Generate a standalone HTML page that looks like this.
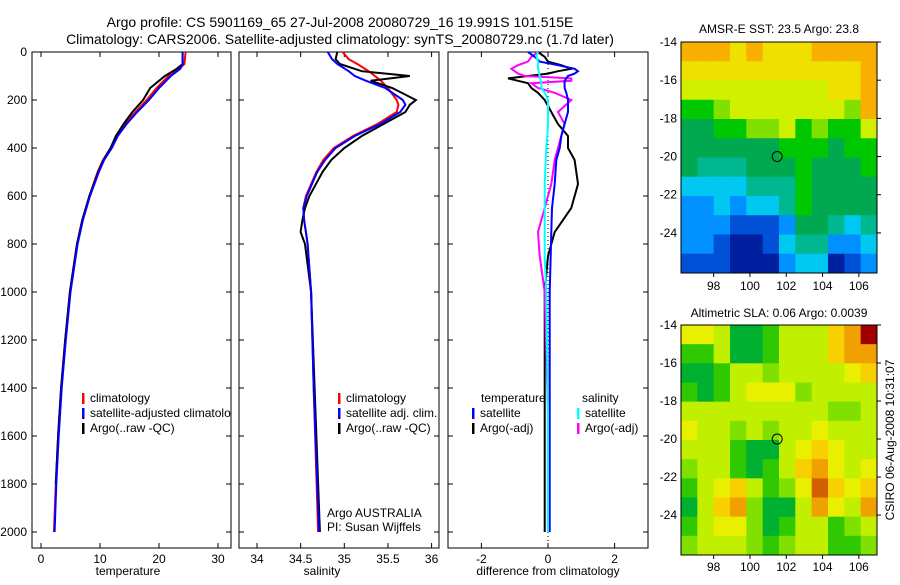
<!DOCTYPE html>
<html><head><meta charset="utf-8"><style>
body{margin:0;background:#fff;width:900px;height:580px;overflow:hidden}
svg{font-family:"Liberation Sans",sans-serif}
</style></head><body>
<svg id="fig" width="900" height="580" xmlns="http://www.w3.org/2000/svg">
<text x="340" y="27" font-size="14" text-anchor="middle">Argo profile: CS 5901169_65 27-Jul-2008 20080729_16 19.991S 101.515E</text>
<text x="340" y="44" font-size="14" text-anchor="middle">Climatology: CARS2006. Satellite-adjusted climatology: synTS_20080729.nc (1.7d later)</text>
</svg>
<script>
// ---------- data ----------
const tDepth=[0,50,70,100,150,200,250,300,350,400,450,500,600,700,800,1000,1200,1400,1600,1800,2000];
const tempSat=[24,24,23.6,22,20,18.3,16.3,14.5,13,12,10.7,9.8,8.3,7.1,6.2,5,4.2,3.5,3,2.6,2.3];
const tempClim=[24.5,24.3,23.4,21.6,19.6,17.9,16,14.2,12.8,11.8,10.5,9.6,8.2,7,6.1,4.9,4.1,3.4,2.9,2.5,2.2];
const tempArgo=[24,24,23,21,18.5,17.3,15.5,14,12.7,11.8,10.6,9.7,8.2,7,6.1,4.9,4.1,3.4,2.9,2.5,2.3];
const sDepth=[0,30,50,80,100,120,150,200,220,250,300,350,400,450,500,600,650,700,750,800,1000,1400,2000];
const salSat=[34.81,34.86,34.92,35.05,35.12,35.25,35.47,35.67,35.7,35.64,35.41,35.12,34.9,34.78,34.69,34.57,34.53,34.54,34.56,34.58,34.62,34.65,34.71];
const salClim=[34.98,35.05,35.15,35.28,35.35,35.42,35.5,35.6,35.62,35.6,35.38,35.1,34.88,34.76,34.68,34.56,34.53,34.54,34.56,34.58,34.62,34.65,34.7];
const salArgo=[34.92,34.9,34.95,35.2,35.75,35.3,35.55,35.82,35.75,35.7,35.45,35.2,35.0,34.85,34.75,34.6,34.55,34.52,34.5,34.55,34.62,34.66,34.72];
const dDepth=[0,20,40,55,70,80,90,100,110,120,130,150,170,200,250,300,350,400,450,550,650,750,850,1000,1500,2000];
const dTempSat=[-0.6,-0.4,-0.25,0.3,0.8,0.9,0.8,0.6,0.55,0.5,0.5,0.5,0.55,0.6,0.6,0.5,0.4,0.35,0.25,0.2,0.12,0.1,0.08,0.05,0.05,0.05];
const dTempArgo=[-0.3,-0.1,0.0,0.4,0.7,0.3,0.0,-0.6,-1.2,-0.9,-0.6,-0.5,-0.3,-0.1,0.1,0.3,0.6,0.6,0.8,0.9,0.7,0.2,0.0,-0.1,-0.1,-0.1];
const dSalArgo=[-0.3,-0.5,-0.6,-0.9,-1.1,-1.0,-0.9,-0.7,0.7,0.7,-0.5,-0.3,0.2,0.7,0.3,0.5,0.4,0.3,0.2,0.1,-0.1,-0.3,-0.25,-0.1,0.0,0.0];
const dSalSat=[-0.3,-0.35,-0.3,-0.3,-0.3,-0.28,-0.27,-0.25,-0.23,-0.22,-0.2,-0.2,-0.1,0.0,0.0,0.0,-0.02,-0.05,-0.07,-0.1,-0.1,-0.1,-0.1,-0.05,0.0,0.0];
const depthTicks=[0,200,400,600,800,1000,1200,1400,1600,1800,2000];
const tempTicks=[0,10,20,30];
const salTicks=[34,34.5,35,35.5,36];
const diffTicks=[-2,0,2];
const latTicks=[14,16,18,20,22,24];
const lonTicks=[98,100,102,104,106];
const sstGrid=[
[10,10,10,9,10,9,9,9,10,10,10,10],
[9,9,9,9,9,9,9,9,9,9,9,10],
[8,8,8,8,8,8,8,8,8,9,9,10],
[6,6,7,8,8,8,8,8,8,8,7,10],
[5,5,6,6,7,7,8,6,7,6,6,8],
[5,5,5,5,5,5,6,6,6,5,6,6],
[5,4,4,4,5,5,5,6,5,5,5,6],
[3,3,3,3,4,4,4,6,5,5,5,5],
[2,2,3,2,3,3,4,6,5,5,5,5],
[2,2,2,1,1,1,2,5,5,4,3,4],
[2,2,1,0,0,1,3,4,4,2,2,3],
[1,1,1,0,0,0,2,3,3,0,1,2]];
const slaGrid=[
[4,4,3,0,0,1,3,3,3,5,6,8],
[1,1,3,0,0,1,3,3,3,5,6,6],
[0,0,1,3,3,2,3,3,3,3,4,5],
[1,0,1,3,4,4,4,2,3,3,3,3],
[3,3,3,3,3,3,3,3,3,2,2,3],
[4,3,3,2,3,2,3,3,4,3,3,3],
[3,3,3,1,0,0,3,4,5,4,3,3],
[2,3,3,1,0,1,3,5,6,4,3,4],
[1,3,4,5,3,1,2,4,7,5,4,5],
[0,3,5,6,2,0,0,3,6,4,3,6],
[1,3,4,4,2,0,1,3,3,1,2,3],
[2,3,3,3,2,1,2,3,3,1,1,2]];
const sstPal=['#0020a0','#0050d8','#0090ff','#00c8f0','#00b890','#00a850','#00c800','#80e000','#d0f000','#f0e000','#f8b000'];
const slaPal=['#00b030','#30c800','#80e000','#c0f000','#e8f000','#f8d000','#f0a000','#d06000','#a00000'];

const NS='http://www.w3.org/2000/svg';
const svg=document.getElementById('fig');
function el(tag,attrs,parent){const e=document.createElementNS(NS,tag);for(const k in attrs)e.setAttribute(k,attrs[k]);(parent||svg).appendChild(e);return e;}
const pTop=52,pBot=548;
const yD=d=>pTop+d*0.24;

function panel(name,x0,x1,xs,ticks,label,labelX,showY){
  const g=el('g',{});
  
  
  const r=el('rect',{x:x0,y:pTop,width:x1-x0,height:pBot-pTop,fill:'none',stroke:'#000','stroke-width':1},g);
  
  
  ticks.forEach(v=>{const x=xs(v);
    el('line',{x1:x,x2:x,y1:pTop,y2:pTop+5,stroke:'#000'},g);
    el('line',{x1:x,x2:x,y1:pBot,y2:pBot-5,stroke:'#000'},g);
    const t=el('text',{x:x,y:pBot+15,'font-size':12,'text-anchor':'middle'},g);t.textContent=v;
    
    
  });
  depthTicks.forEach(d=>{const y=yD(d);
    el('line',{x1:x0,x2:x0+5,y1:y,y2:y,stroke:'#000'},g);
    el('line',{x1:x1,x2:x1-5,y1:y,y2:y,stroke:'#000'},g);
    if(showY){const t=el('text',{x:x0-5,y:y+4,'font-size':12,'text-anchor':'end'},g);t.textContent=d;
      
      }
  });
  const t=el('text',{x:labelX,y:575,'font-size':12,'text-anchor':'middle'},g);t.textContent=label;
  
  
  return g;
}
function line(g,depths,vals,xs,color,name,w){
  const pts=depths.map((d,i)=>xs(vals[i]).toFixed(1)+','+yD(d).toFixed(1)).join(' ');
  const p=el('polyline',{points:pts,fill:'none',stroke:color,'stroke-width':w||2},g);
  
  
}
function legend(g,x,y,color,text){
  el('rect',{x:x,y:y-9,width:2.5,height:11,fill:color},g);
  const t=el('text',{x:x+8,y:y,'font-size':12},g);t.textContent=text;
  
  
}
const defs=el('defs',{});
const cp=el('clipPath',{id:'c1'},defs);el('rect',{x:32,y:pTop,width:199,height:pBot-pTop},cp);

// Panel 1 temperature
const xT=v=>41+v*5.9;
const g1=panel('temperature-panel',32,231,xT,tempTicks,'temperature',128,true);
line(g1,tDepth,tempClim,xT,'#f00','climatology-temp-line');
line(g1,tDepth.slice(0,20),tempArgo.slice(0,20),xT,'#000','argo-temp-line');
line(g1,tDepth,tempSat,xT,'#00f','satellite-temp-line');
const lg1=el('g',{'clip-path':'url(#c1)'},g1);
legend(lg1,82,402,'#f00','climatology');
legend(lg1,82,417,'#00f','satellite-adjusted climatology');
legend(lg1,82,432,'#000','Argo(..raw -QC)');

// Panel 2 salinity
const xS=v=>257+(v-34)*87.3;
const g2=panel('salinity-panel',239,439,xS,salTicks,'salinity',322,false);
line(g2,sDepth,salClim,xS,'#f00','climatology-salinity-line');
line(g2,sDepth,salArgo,xS,'#000','argo-salinity-line');
line(g2,sDepth,salSat,xS,'#00f','satellite-salinity-line');
legend(g2,338,402,'#f00','climatology');
legend(g2,338,417,'#00f','satellite adj. clim.');
legend(g2,338,432,'#000','Argo(..raw -QC)');
let tt=el('text',{x:327,y:517,'font-size':12},g2);tt.textContent='Argo AUSTRALIA';


tt=el('text',{x:327,y:531,'font-size':12},g2);tt.textContent='PI: Susan Wijffels';



// Panel 3 differences
const xDf=v=>548+v*33.3;
const g3=panel('difference-panel',448,648,xDf,diffTicks,'difference from climatology',548,false);
el('line',{x1:548,x2:548,y1:pTop,y2:pBot,stroke:'#000','stroke-dasharray':'1,3'},g3);
line(g3,dDepth,dTempArgo,xDf,'#000','argo-temp-diff-line');
line(g3,dDepth,dSalArgo,xDf,'#f0f','argo-salinity-diff-line');
line(g3,dDepth,dTempSat,xDf,'#00f','satellite-temp-diff-line');
line(g3,dDepth,dSalSat,xDf,'#0ff','satellite-salinity-diff-line');
tt=el('text',{x:481,y:402,'font-size':12},g3);tt.textContent='temperature';


tt=el('text',{x:582,y:402,'font-size':12},g3);tt.textContent='salinity';


legend(g3,472,417,'#00f','satellite');
legend(g3,472,432,'#000','Argo(-adj)');
legend(g3,577,417,'#0ff','satellite');
legend(g3,577,432,'#f0f','Argo(-adj)');

// Maps
function map(name,title,fx,fy,fw,fh,grid,pal,titleY,labelY){
  const g=el('g',{});
  
  
  const lon0=96.2,lon1=107,lat0=14,latPx=fh/(26.1-14);
  const xL=v=>fx+(v-lon0)*fw/(lon1-lon0);
  const yL=v=>fy+(v-lat0)*latPx;
  const rows=grid.length,cols=grid[0].length;
  const cw=fw/cols,ch=fh/rows;
  grid.forEach((row,r)=>row.forEach((v,c)=>{
    const cell=el('rect',{x:fx+c*cw,y:fy+r*ch,width:cw+0.5,height:ch+0.5,fill:pal[v]},g);
    
    
  }));
  el('rect',{x:fx,y:fy,width:fw,height:fh,fill:'none',stroke:'#000'},g);
  latTicks.forEach(v=>{const y=yL(v);
    el('line',{x1:fx+fw,x2:fx+fw+4,y1:y,y2:y,stroke:'#000'},g);
    const t=el('text',{x:fx-4,y:y+4,'font-size':12,'text-anchor':'end'},g);t.textContent='-'+v;
    
    });
  lonTicks.forEach(v=>{const x=xL(v);
    el('line',{x1:x,x2:x,y1:fy+fh,y2:fy+fh+4,stroke:'#000'},g);
    const t=el('text',{x:x,y:labelY,'font-size':12,'text-anchor':'middle'},g);t.textContent=v;
    
    });
  const c=el('circle',{cx:xL(101.5),cy:yL(20),r:5,fill:'none',stroke:'#000','stroke-width':1},g);
  
  
  const t=el('text',{x:fx+fw/2,y:titleY,'font-size':12,'text-anchor':'middle'},g);t.textContent=title;
  
  
}
map('sst-map','AMSR-E SST: 23.5 Argo: 23.8',681,42,196,231,sstGrid,sstPal,33,290);
map('sla-map','Altimetric SLA: 0.06 Argo: 0.0039',681,325,196,230,slaGrid,slaPal,317,571);
tt=el('text',{x:0,y:0,'font-size':12,'text-anchor':'middle',transform:'translate(894,440) rotate(-90)'});
tt.textContent='CSIRO 06-Aug-2008 10:31:07';


</script>
</body></html>
